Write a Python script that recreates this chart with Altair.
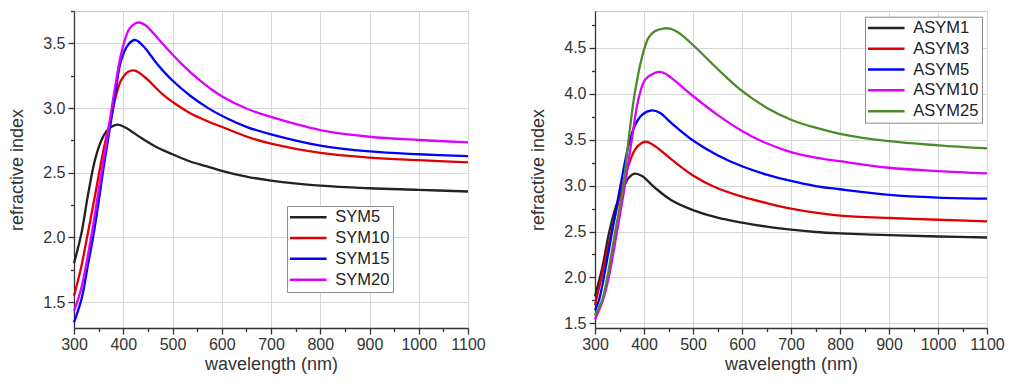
import altair as alt
import pandas as pd

# ---------------- left panel (SYM) ----------------
sym_names = ["SYM5", "SYM10", "SYM15", "SYM20"]
sym_colors = ["#222222", "#e00000", "#0000ff", "#dd00ff"]

sym5_wl = [300, 315, 328, 342, 355, 366, 376, 389, 405, 436, 469, 500, 536, 570, 600, 650, 700, 800, 900, 1000, 1100]
sym5_n = [1.80, 2.03, 2.32, 2.59, 2.745, 2.82, 2.855, 2.872, 2.848, 2.77, 2.695, 2.643, 2.587, 2.549, 2.515, 2.47, 2.439, 2.40, 2.38, 2.368, 2.355]

sym10_wl = [300, 314, 328, 342, 353, 364, 375, 385, 395, 410, 424, 442, 455, 469, 485, 500, 536, 570, 600, 650, 700, 800, 900, 1000, 1100]
sym10_n = [1.55, 1.76, 2.03, 2.31, 2.54, 2.75, 2.92, 3.09, 3.21, 3.28, 3.29, 3.244, 3.20, 3.145, 3.09, 3.048, 2.96, 2.90, 2.855, 2.78, 2.725, 2.653, 2.617, 2.597, 2.58]

sym15_wl = [300, 315, 328, 340, 351, 360, 368, 376, 385, 395, 410, 424, 442, 455, 469, 485, 500, 520, 536, 570, 600, 650, 700, 800, 900, 1000, 1100]
sym15_n = [1.344, 1.52, 1.78, 2.03, 2.30, 2.54, 2.73, 2.92, 3.14, 3.36, 3.49, 3.526, 3.474, 3.41, 3.34, 3.27, 3.213, 3.145, 3.095, 3.005, 2.94, 2.855, 2.797, 2.71, 2.665, 2.643, 2.628]

sym20_wl = [300, 315, 336, 347, 357, 366, 375, 385, 397, 412, 425, 432, 445, 469, 485, 500, 520, 550, 575, 600, 650, 700, 800, 900, 1000, 1100]
sym20_n = [1.43, 1.61, 2.03, 2.29, 2.53, 2.74, 2.96, 3.20, 3.44, 3.61, 3.655, 3.661, 3.64, 3.544, 3.475, 3.414, 3.336, 3.231, 3.156, 3.091, 2.996, 2.931, 2.83, 2.778, 2.753, 2.735]

# ---------------- right panel (ASYM) ----------------
asym_names = ["ASYM1", "ASYM3", "ASYM5", "ASYM10", "ASYM25"]
asym_colors = ["#222222", "#e00000", "#0000ff", "#dd00ff", "#4b8b2b"]

asym1_wl = [300, 315, 328, 342, 355, 369, 381, 396, 422, 456, 500, 550, 600, 650, 700, 750, 800, 900, 1000, 1100]
asym1_n = [1.795, 2.11, 2.47, 2.76, 2.94, 3.086, 3.13, 3.104, 2.978, 2.84, 2.733, 2.65, 2.597, 2.553, 2.52, 2.495, 2.48, 2.461, 2.446, 2.435]

asym3_wl = [300, 313, 328, 342, 355, 369, 382, 396, 406, 422, 456, 500, 544, 600, 650, 700, 750, 800, 900, 1000, 1100]
asym3_n = [1.698, 2.0, 2.365, 2.69, 2.978, 3.23, 3.393, 3.465, 3.476, 3.43, 3.285, 3.11, 2.985, 2.88, 2.81, 2.75, 2.705, 2.674, 2.647, 2.628, 2.61]

asym5_wl = [300, 308, 318, 335, 352, 369, 382, 396, 416, 433, 456, 500, 550, 600, 650, 700, 750, 800, 900, 1000, 1100]
asym5_n = [1.644, 1.75, 2.0, 2.5, 3.0, 3.45, 3.66, 3.77, 3.818, 3.79, 3.68, 3.49, 3.33, 3.21, 3.12, 3.05, 2.995, 2.96, 2.899, 2.87, 2.859]

asym10_wl = [300, 316, 328, 345, 361, 375, 389, 402, 416, 429, 442, 455, 470, 500, 550, 600, 650, 700, 750, 800, 900, 1000, 1100]
asym10_n = [1.543, 1.75, 2.0, 2.5, 3.0, 3.5, 3.95, 4.15, 4.21, 4.237, 4.222, 4.175, 4.11, 3.975, 3.77, 3.595, 3.46, 3.365, 3.305, 3.265, 3.194, 3.158, 3.133]

asym25_wl = [300, 315, 325, 342, 358, 369, 381, 396, 409, 422, 439, 453, 470, 500, 554, 600, 651, 700, 750, 800, 900, 1000, 1100]
asym25_n = [1.59, 1.76, 2.0, 2.52, 3.0, 3.52, 4.0, 4.40, 4.608, 4.68, 4.709, 4.709, 4.666, 4.53, 4.25, 4.03, 3.845, 3.717, 3.63, 3.564, 3.483, 3.438, 3.405]

x_ticks = list(range(300, 1101, 50))
y_ticks_left = [1.5 + 0.25 * i for i in range(10)]
y_ticks_right = [1.5 + 0.25 * i for i in range(14)]


def long_table(names, wls, ns):
    rows = []
    for name, wl, n in zip(names, wls, ns):
        for a, b in zip(wl, n):
            rows.append({"series": name, "wavelength": a, "n": b})
    return pd.DataFrame(rows)


left_df = long_table(sym_names, [sym5_wl, sym10_wl, sym15_wl, sym20_wl],
                     [sym5_n, sym10_n, sym15_n, sym20_n])
right_df = long_table(asym_names, [asym1_wl, asym3_wl, asym5_wl, asym10_wl, asym25_wl],
                      [asym1_n, asym3_n, asym5_n, asym10_n, asym25_n])

X_MAJOR = "datum.value % 100 === 0"
Y_MAJOR = "round(datum.value * 4) % 2 === 0"


def x_axis():
    return alt.Axis(
        values=x_ticks, title="wavelength (nm)", labelFlush=False, format="d",
        labelExpr=f"{X_MAJOR} ? datum.label : ''",
        tickSize={"condition": {"test": X_MAJOR, "value": 6}, "value": 3.5},
        gridOpacity={"condition": {"test": X_MAJOR, "value": 1}, "value": 0},
        labelPadding=2, titlePadding=3,
    )


def y_axis(vals):
    return alt.Axis(
        values=vals, title="refractive index", format=".1f",
        labelExpr=f"{Y_MAJOR} ? datum.label : ''",
        tickSize={"condition": {"test": Y_MAJOR, "value": 6}, "value": 3.5},
        gridOpacity={"condition": {"test": Y_MAJOR, "value": 1}, "value": 0},
        labelPadding=3, titlePadding=16,
    )


def panel(df, names, colors, ydom, yvals, leg, w):
    return alt.Chart(df).mark_line(strokeWidth=2.3, interpolate="catmull-rom").encode(
        x=alt.X("wavelength:Q", scale=alt.Scale(domain=[300, 1100], nice=False, zero=False), axis=x_axis()),
        y=alt.Y("n:Q", scale=alt.Scale(domain=ydom, nice=False, zero=False), axis=y_axis(yvals)),
        color=alt.Color("series:N", scale=alt.Scale(domain=names, range=colors), sort=names, legend=leg),
    ).properties(width=w, height=317)


leg_common = dict(
    title=None, orient="none", direction="vertical",
    fillColor="white", strokeColor="#8c8c8c", padding=3,
    symbolType="M-3,0H3", symbolSize=149, symbolStrokeWidth=2.5, symbolOffset=10,
    labelFontSize=16.5, labelColor="#222222", rowPadding=3.8, labelAlign="left", labelOffset=18.7,
)

# the first entry of the left legend is set one figure further right, as in the original
left_leg = alt.Legend(legendX=213, legendY=195,
                      labelExpr="datum.value === 'SYM5' ? '\u2007SYM5' : datum.label", **leg_common)
right_leg = alt.Legend(legendX=270, legendY=5.7, **leg_common)

left = panel(left_df, sym_names, sym_colors, [1.3, 3.75], y_ticks_left, left_leg, 394)
right = panel(right_df, asym_names, asym_colors, [1.45, 4.9], y_ticks_right, right_leg, 392)

chart = alt.hconcat(left, right, spacing=43).resolve_scale(color="independent").properties(
    padding={"left": 0, "top": 1, "right": 0, "bottom": 0}
).configure(font="Liberation Sans").configure_view(stroke="#c8c8c8", strokeWidth=1).configure_axis(
    domainColor="#333333", domainWidth=1.3, tickColor="#333333", tickWidth=1.3,
    labelColor="#333333", titleColor="#333333", labelFontSize=16, titleFontSize=18,
    titleFontWeight="normal", gridColor="#d6d6d6", gridWidth=1,
)

chart.save("out.html", embed_options={"renderer": "svg", "actions": False})
